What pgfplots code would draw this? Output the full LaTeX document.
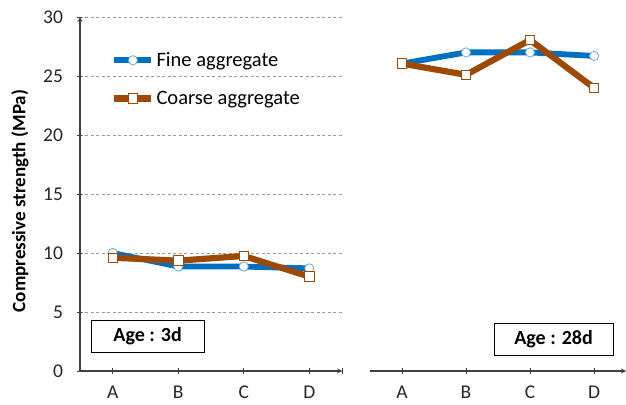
\documentclass[border=0pt]{standalone}
\usepackage{pgfplots}
\pgfplotsset{compat=1.18}
\usepackage{fontspec}
\setmainfont{Carlito}
\definecolor{fineblue}{HTML}{0070C0}
\definecolor{coarsebrown}{HTML}{9E4A06}
\definecolor{gridgray}{HTML}{9A9A9A}
\definecolor{axgray}{HTML}{404040}
\pgfplotsset{
  panel/.style={
    scale only axis, width=258bp, height=354bp,
    xmin=0.5, xmax=4.5, ymin=0, ymax=30,
    xtick={1,2,3,4}, xticklabels={A,B,C,D},
    ytick={0,5,10,15,20,25,30},
    ymajorgrids, major grid style={gridgray, dash pattern=on 3bp off 2.5bp, line width=0.7bp},
    tick align=outside, major tick length=5bp,
    every tick/.style={axgray, line width=0.8bp},
    axis line style={axgray, line width=1.2bp, -},
    tick label style={font=\fontsize{19.5bp}{21bp}\selectfont, text=black!85},
    /pgf/number format/assume math mode=true,
    xticklabel style={yshift=-9bp},
    clip=false,
  },
  fine/.style={fineblue, line width=5.8bp, mark=*, mark size=4.6bp,
    mark options={fill=white, draw=fineblue!60, line width=0.8bp}},
  coarse/.style={coarsebrown, line width=6.2bp, mark=square*, mark size=4.8bp,
    mark options={fill=white, draw=coarsebrown, line width=0.8bp}},
}
\begin{document}
\begin{tikzpicture}
\path[use as bounding box] (-80bp,-34bp) rectangle (546bp,371bp);
\begin{axis}[panel, at={(0,0)}, anchor=origin, width=262bp,
  axis x line=bottom, axis y line=left,
  extra x ticks={4.5}, extra x tick labels={},
  ylabel={\bfseries Compressive strength (MPa)},
  ylabel style={at={(axis description cs:-0.229,0.48)}, anchor=center, font=\fontsize{19bp}{21bp}\selectfont},
  yticklabel style={xshift=-11bp},
  legend style={at={(axis cs:0.93,27.35)}, anchor=north west, draw=none, fill=none,
    font=\fontsize{20.5bp}{22bp}\selectfont, row sep=19bp, legend cell align=left},
  legend image code/.code={\draw[#1, mark=none] (0bp,0bp) -- (37bp,0bp);
     \draw[#1, only marks] plot coordinates {(18.5bp,0bp)};},
]
\addplot[fine] coordinates {(1,10.0) (2,8.85) (3,8.85) (4,8.7)};
\addlegendentry{Fine aggregate}
\addplot[coarse] coordinates {(1,9.6) (2,9.35) (3,9.75) (4,8.0)};
\addlegendentry{Coarse aggregate}
\node[draw=black, line width=0.8bp, minimum width=113bp, minimum height=32bp,
  font=\bfseries\fontsize{20bp}{22bp}\selectfont] at (rel axis cs:0.258,0.099) {Age : 3d};
\end{axis}
\begin{axis}[panel, at={(290bp,0)}, anchor=origin, width=256bp,
  axis x line=bottom, axis y line=none, ytick style={draw=none},
]
\addplot[fine] coordinates {(1,26.05) (2,27.0) (3,27.0) (4,26.7)};
\addplot[coarse] coordinates {(1,26.05) (2,25.1) (3,28.05) (4,24.0)};
\node[draw=black, line width=0.8bp, minimum width=119bp, minimum height=32bp,
  font=\bfseries\fontsize{20bp}{22bp}\selectfont] at (rel axis cs:0.717,0.09) {Age : 28d};
\end{axis}
\end{tikzpicture}
\end{document}
